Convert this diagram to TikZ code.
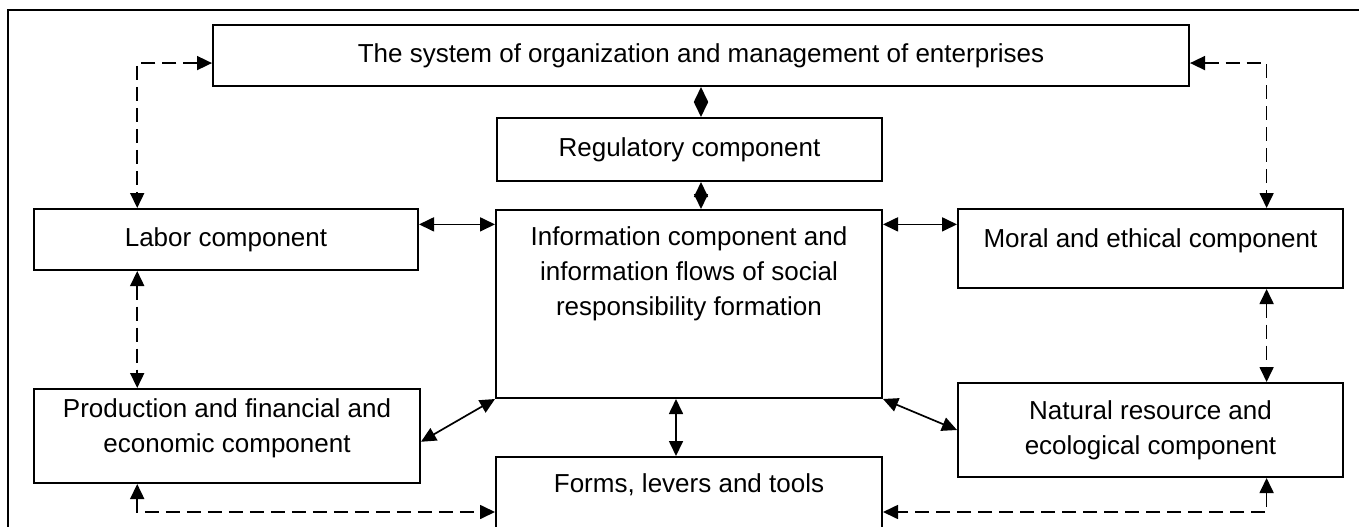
\documentclass[tikz,border=0pt]{standalone}
\usepackage{fontspec}
\setmainfont{Liberation Sans}
\usetikzlibrary{positioning,arrows.meta,calc}

\begin{document}
\begin{tikzpicture}[x=1pt,y=-1pt,
  font=\fontsize{26}{35}\selectfont,
  >={Triangle[length=15pt,width=14pt]},
  box/.style={draw,line width=2pt,minimum width=385pt,inner sep=0pt,align=center},
  toptext/.style={anchor=north,inner sep=0pt,align=center},
  arr/.style={<->,line width=1.7pt},
  darr/.style={<->,line width=1.7pt,dash pattern=on 14pt off 7pt},
]
  \clip (0,0) rectangle (1359,527);
  \draw[line width=1.5pt] (8,10) rectangle (1400,600);

  % boxes
  \node[box,minimum width=976pt,minimum height=61pt] (sys) at (701,55.5)
    {The system of organization and management of enterprises};
  \node[box,minimum height=63pt] (reg) at (689.5,149.5) {Regulatory component};
  \node[box,minimum width=386pt,minimum height=188pt,
        label={[toptext,yshift=-17.5pt]north:Information component and\\
               information flows of social\\responsibility formation}]
    (info) at (689,304) {};
  \node[box,minimum width=384pt,minimum height=61pt] (labor) at (226,239.5)
    {Labor component};
  \node[box,minimum height=79pt,
        label={[toptext,yshift=-20.5pt]north:Moral and ethical component}]
    (moral) at (1150.5,248.5) {};
  \node[box,minimum width=386pt,minimum height=94pt,
        label={[toptext,yshift=-10pt]north:Production and financial and\\economic component}]
    (prod) at (227,436) {};
  \node[box,minimum height=94pt] (nat) at (1150.5,430)
    {Natural resource and\\ecological component};
  \node[box,minimum width=386pt,minimum height=110pt,
        label={[toptext,yshift=-17.5pt]north:Forms, levers and tools}]
    (forms) at (689,512) {};

  % solid links
  \draw[arr] (sys.south) -- (sys.south |- reg.north);
  \draw[arr] (sys.south |- reg.south) -- (sys.south |- info.north);
  \coordinate (la) at ($(labor.north east)!.26!(labor.south east)$);
  \draw[arr] (la) -- (la -| info.west);
  \draw[arr] (la -| info.east) -- (la -| moral.west);
  \coordinate (pe) at ($(prod.north east)!.56!(prod.south east)$);
  \draw[arr] (info.south west) -- (pe);
  \draw[arr] (info.south east) -- (nat.west);
  \coordinate (ifx) at ([xshift=-13pt]info.south);
  \draw[arr] (ifx) -- (ifx |- forms.north);

  % dashed links
  \coordinate (syl) at ($(sys.north west)!.62!(sys.south west)$);
  \coordinate (syr) at ($(sys.north east)!.62!(sys.south east)$);
  \coordinate (lx) at ($(labor.north west)!.27!(labor.north east)$);
  \coordinate (mx) at ($(moral.north west)!.8!(moral.north east)$);
  \draw[darr] (syl) -| (lx);
  \draw[darr] (syr) -| (mx);
  \draw[darr] (lx |- labor.south) -- (lx |- prod.north);
  \draw[darr] (mx |- moral.south) -- (mx |- nat.north);
  \draw[darr] (lx |- prod.south) |- (forms.west);
  \draw[darr] (mx |- nat.south) |- (forms.east);
\end{tikzpicture}
\end{document}
